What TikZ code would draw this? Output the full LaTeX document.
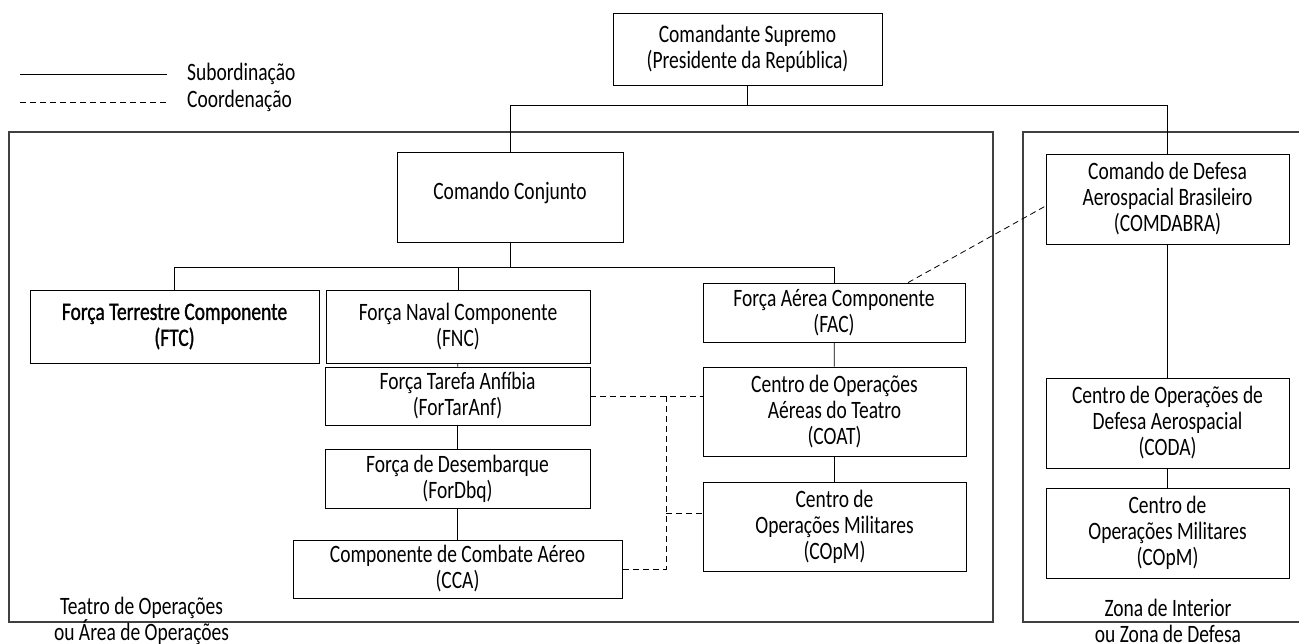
\documentclass[tikz,border=0pt]{standalone}
\usepackage{fontspec}
\setmainfont{Carlito}[FakeStretch=0.78]
\newfontfamily\ftcfont{Carlito}[FakeStretch=0.78,FakeBold=1.2]
\begin{document}
\begin{tikzpicture}[x=1pt,y=-1pt,
  box/.style={draw,line width=0.8pt,inner sep=0pt,align=center,
    font=\fontsize{25}{26}\selectfont},
  txt/.style={inner sep=0pt,align=center,font=\fontsize{25}{26}\selectfont},
  sub/.style={line width=0.8pt},
  coord/.style={line width=0.8pt,dash pattern=on 6pt off 4pt},
  zone/.style={line width=1.2pt,draw=black!75}]
\useasboundingbox (0,0) rectangle (1299,644);
% containers
\draw[zone] (9,132) rectangle (993,622);
\draw[zone] (1299.5,132) -- (1023,132) -- (1023,622) -- (1299.5,622);
% legend
\coordinate (l1a) at (20,74); \coordinate (l1b) at (167,74);
\coordinate (l2a) at (20,102); \coordinate (l2b) at (167,102);
\draw[sub] (l1a) -- (l1b);
\draw[coord] (l2a) -- (l2b);
\node[txt,anchor=west] (lsub) at (187,74) {Subordinação};
\node[txt,anchor=west] (lcoo) at (187,101) {Coordenação};
% boxes
\node[box,minimum width=269,minimum height=72] (sup) at (747.5,49) {Comandante Supremo\\(Presidente da República)};
\node[box,minimum width=226,minimum height=90] (cc) at (510,197) {};
\node[txt] (cct) at (510,193) {Comando Conjunto};
\node[box,minimum width=289,minimum height=73] (ftc) at (174.5,326.5) {\ftcfont Força Terrestre Componente\\\ftcfont(FTC)};
\node[box,minimum width=264,minimum height=73] (fnc) at (458,326.5) {Força Naval Componente\\(FNC)};
\node[box,minimum width=262,minimum height=59] (fac) at (834,312.5) {Força Aérea Componente\\(FAC)};
\node[box,minimum width=265,minimum height=58] (fta) at (457.5,396) {Força Tarefa Anfíbia\\(ForTarAnf)};
\node[box,minimum width=265,minimum height=59] (fdbq) at (457.5,478.5) {Força de Desembarque\\(ForDbq)};
\node[box,minimum width=329,minimum height=58] (cca) at (457.5,569) {Componente de Combate Aéreo\\(CCA)};
\node[box,minimum width=263,minimum height=89] (coat) at (834.5,411.5) {Centro de Operações\\Aéreas do Teatro\\(COAT)};
\node[box,minimum width=263,minimum height=89] (copm) at (834.5,526.5) {Centro de\\Operações Militares\\(COpM)};
\node[box,minimum width=243,minimum height=90] (comd) at (1167.5,199) {Comando de Defesa\\Aerospacial Brasileiro\\(COMDABRA)};
\node[box,minimum width=243,minimum height=90] (coda) at (1167.5,423) {Centro de Operações de\\Defesa Aerospacial\\(CODA)};
\node[box,minimum width=243,minimum height=90] (copmz) at (1167.5,533) {Centro de\\Operações Militares\\(COpM)};
% zone labels
\node[txt] (teatro) at (141.5,621) {Teatro de Operações\\ou Área de Operações};
\node[txt] (zona) at (1168,621) {Zona de Interior\\ou Zona de Defesa};
% subordination
\draw[sub] (sup.south) -- ++(0,20) coordinate (j1);
\draw[sub] (cc.north) |- (j1) -| (comd.north);
\draw[sub] (cc.south) -- ++(0,25) coordinate (j2);
\draw[sub] (ftc.north) |- (j2) -| (fac.north);
\draw[sub] (fnc.north) -- (fnc.north |- j2);
\draw[sub] (fnc) -- (fta);
\draw[sub] (fta) -- (fdbq);
\draw[sub] (fdbq) -- (cca);
\draw[sub] (fac) -- (coat);
\draw[sub] (coat) -- (copm);
\draw[sub] (comd) -- (coda);
\draw[sub] (coda) -- (copmz);
% coordination
\coordinate (d1) at (666,396);
\coordinate (d2) at (666,569);
\draw[coord] (fta.east |- d1) -- (coat.west |- d1);
\draw[coord] (d1) -- (d2) -- (cca.east |- d2);
\draw[coord] (666,513) -- (copm.west |- 0,513);
\draw[coord] ([xshift=74pt]fac.north) -- ([yshift=-7pt]comd.west);
\end{tikzpicture}
\end{document}
